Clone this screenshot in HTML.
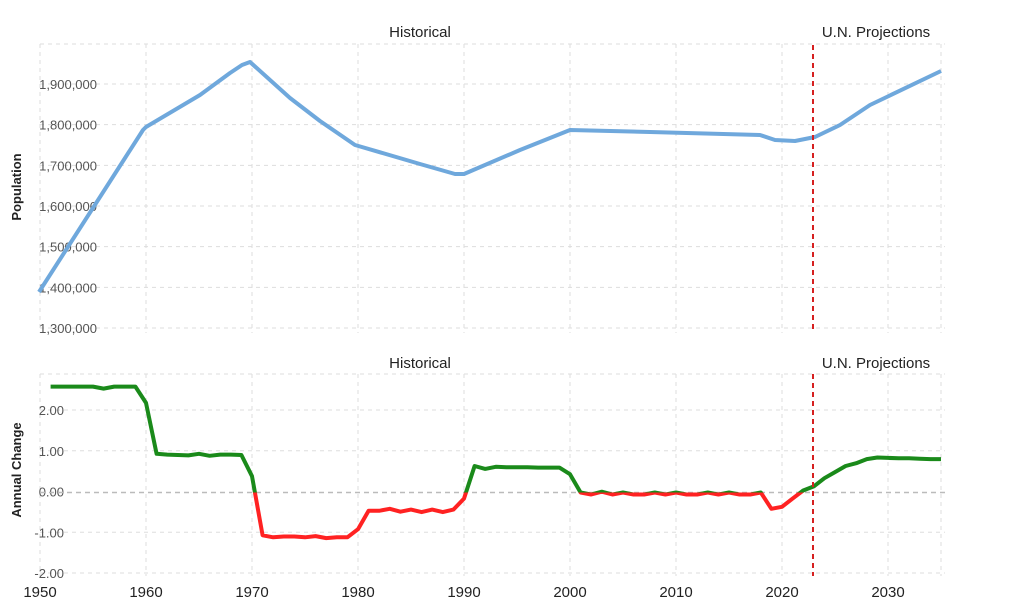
<!DOCTYPE html>
<html><head><meta charset="utf-8"><style>
html,body{margin:0;padding:0;background:#fff;width:1030px;height:609px;overflow:hidden}
svg text{font-family:"Liberation Sans",Arial,sans-serif}
</style></head><body>
<svg id="s" width="1030" height="609" xmlns="http://www.w3.org/2000/svg">
<defs>
<clipPath id="up"><rect x="0" y="370" width="1030" height="122.5"/></clipPath>
<clipPath id="dn"><rect x="0" y="492.5" width="1030" height="100"/></clipPath>
</defs>
<g id="grid" stroke="#ddd" stroke-dasharray="4,4" stroke-width="1"></g>
<text x="420" y="37" font-size="15" text-anchor="middle" fill="#222">Historical</text>
<text x="876" y="37" font-size="15" text-anchor="middle" fill="#222">U.N. Projections</text>
<text x="420" y="368" font-size="15" text-anchor="middle" fill="#222">Historical</text>
<text x="876" y="368" font-size="15" text-anchor="middle" fill="#222">U.N. Projections</text>
<text transform="translate(21,187) rotate(-90)" font-size="13" font-weight="bold" text-anchor="middle" fill="#222">Population</text>
<text transform="translate(21,470) rotate(-90)" font-size="13" font-weight="bold" text-anchor="middle" fill="#222">Annual Change</text>
<g id="lbl" font-size="13" fill="#555"></g>
<line x1="40" x2="945" y1="492.5" y2="492.5" stroke="#bbb" stroke-dasharray="5,4" stroke-width="1.5"/>
<polyline id="top" fill="none" stroke="#6fa8dc" stroke-width="4" stroke-linejoin="round" points="39,292 143,130 146,127 200,95 230,73 242,65 250,62 290,98 320,121 355,145 420,164 455,174 464,174 520,150 570,130 650,132 760,135 775,140 795,141 815,137 840,125 870,105 941,71"/>
<polyline id="g" clip-path="url(#up)" fill="none" stroke="#1a8a1a" stroke-width="4" stroke-linejoin="round"/>
<polyline id="r" clip-path="url(#dn)" fill="none" stroke="#ff2222" stroke-width="4" stroke-linejoin="round"/>
<line x1="813" x2="813" y1="45" y2="333" stroke="#d62020" stroke-width="2" stroke-dasharray="5,4"/>
<line x1="813" x2="813" y1="374" y2="576" stroke="#d62020" stroke-width="2" stroke-dasharray="5,4"/>
</svg>
<script>
var ns="http://www.w3.org/2000/svg";
function X(y){return 40+(y-1950)*10.6}
var grid=document.getElementById('grid'),lbl=document.getElementById('lbl');
function L(a,b,c,d){var l=document.createElementNS(ns,'line');l.setAttribute('x1',a);l.setAttribute('y1',b);l.setAttribute('x2',c);l.setAttribute('y2',d);grid.appendChild(l)}
function T(x,y,t,anc,fs,fill){var e=document.createElementNS(ns,'text');e.setAttribute('x',x);e.setAttribute('y',y);e.textContent=t;if(anc)e.setAttribute('text-anchor',anc);if(fs)e.setAttribute('font-size',fs);if(fill)e.setAttribute('fill',fill);lbl.appendChild(e)}
for(var yr=1950;yr<=2030;yr+=10){var x=X(yr);L(x,44,x,333);L(x,374,x,576);T(x,597,String(yr),'middle',15,'#222')}
L(X(2035),44,X(2035),333);L(X(2035),374,X(2035),576);
var pl=['1,900,000','1,800,000','1,700,000','1,600,000','1,500,000','1,400,000','1,300,000'];
for(var i=0;i<7;i++){var y=84+i*40.67;L(40,y,945,y);T(97,y+5,pl[i],'end')}
L(40,44,945,44);
var al=['2.00','1.00','0.00','-1.00','-2.00'];
for(var i=0;i<5;i++){var y=410+i*40.75;if(i!=2)L(40,y,945,y);T(64,y+5,al[i],'end')}
L(40,374,945,374);
var v={1951:2.6,1952:2.6,1953:2.6,1954:2.6,1955:2.6,1956:2.55,1957:2.6,1958:2.6,1959:2.6,1960:2.2,1961:0.95,1962:0.93,1963:0.92,1964:0.91,1965:0.95,1966:0.9,1967:0.93,1968:0.93,1969:0.92,1970:0.4,1971:-1.05,1972:-1.1,1973:-1.08,1974:-1.08,1975:-1.1,1976:-1.07,1977:-1.12,1978:-1.1,1979:-1.1,1980:-0.9,1981:-0.45,1982:-0.45,1983:-0.4,1984:-0.47,1985:-0.42,1986:-0.48,1987:-0.42,1988:-0.48,1989:-0.42,1990:-0.15,1991:0.65,1992:0.58,1993:0.63,1994:0.62,1995:0.62,1996:0.62,1997:0.61,1998:0.61,1999:0.61,2000:0.45,2001:0,2002:-0.05,2003:0.02,2004:-0.05,2005:0,2006:-0.05,2007:-0.05,2008:0,2009:-0.05,2010:0,2011:-0.05,2012:-0.05,2013:0,2014:-0.05,2015:0,2016:-0.05,2017:-0.05,2018:0,2019:-0.4,2020:-0.35,2021:-0.15,2022:0.05,2023:0.15,2024:0.35,2025:0.5,2026:0.65,2027:0.72,2028:0.82,2029:0.86,2030:0.85,2031:0.84,2032:0.84,2033:0.83,2034:0.82,2035:0.82};
var pts=[];for(var yr=1951;yr<=2035;yr++){pts.push(X(yr).toFixed(1)+','+(492.5-v[yr]*40.75).toFixed(1))}
document.getElementById('g').setAttribute('points',pts.join(' '));
document.getElementById('r').setAttribute('points',pts.join(' '));
</script>
</body></html>
